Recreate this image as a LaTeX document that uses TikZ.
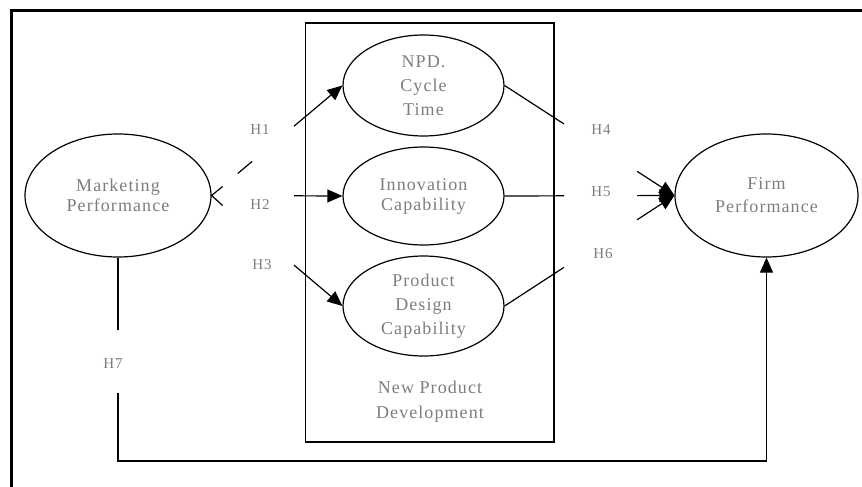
\documentclass[tikz,border=0pt]{standalone}
\usepackage{fontspec}
\setmainfont{Liberation Serif}[LetterSpace=6]
\usetikzlibrary{shapes.geometric,arrows.meta,calc}
\definecolor{txtgray}{RGB}{125,125,125}
\tikzset{
  construct/.style={ellipse,draw,line width=1.2pt,inner sep=0pt,align=center,
    text=txtgray,font=\fontsize{18}{23}\selectfont},
  hlabel/.style={text=txtgray,font=\fontsize{15}{18}\selectfont,inner sep=0pt},
  conn/.style={line width=1.2pt},
  tip/.style={-{Triangle[length=15pt,width=13pt]}},
}
\begin{document}
\begin{tikzpicture}[x=1pt,y=-1pt]
\useasboundingbox (0,0) rectangle (862,487);
% frame
\draw[line width=3pt] (11.5,487) -- (11.5,10.5) -- (862,10.5);
% NPD box
\node[draw,line width=1.2pt,minimum width=248.5pt,minimum height=419pt,inner sep=0pt] (box) at (429.75,232.5) {};
\node[text=txtgray,font=\fontsize{18}{25}\selectfont,align=center] (boxlbl) at (430,402) {New Product\\Development};
% constructs
\node[construct,minimum width=186pt,minimum height=123pt,font=\fontsize{18}{20}\selectfont] (mp) at (118,195.5) {Marketing\\Performance};
\node[construct,minimum width=161pt,minimum height=101pt,font=\fontsize{18}{24}\selectfont] (npd) at (423.5,85.5) {NPD.\\Cycle\\Time};
\node[construct,minimum width=161pt,minimum height=98pt,font=\fontsize{18}{20}\selectfont] (inno) at (423.5,196) {Innovation\\Capability};
\node[construct,minimum width=161pt,minimum height=100pt,font=\fontsize{18}{24}\selectfont] (pdc) at (423.5,306) {Product\\Design\\Capability};
\node[construct,minimum width=183pt,minimum height=123pt] (firm) at (766.5,195.5) {Firm\\Performance};
% labels
\node[hlabel] (h1) at (260,130) {H1};
\node[hlabel] (h2) at (260,205) {H2};
\node[hlabel] (h3) at (262,265) {H3};
\node[hlabel] (h4) at (601,130) {H4};
\node[hlabel] (h5) at (601,192) {H5};
\node[hlabel] (h6) at (603,254) {H6};
\node[hlabel] (h7) at (113,364) {H7};
% H1
\draw[conn] ($(mp.east)!0.2!(npd.west)$) -- ($(mp.east)!0.31!(npd.west)$);
\draw[conn,tip] ($(mp.east)!0.63!(npd.west)$) -- (npd.west);
\draw[conn] (mp.east) ++(11,-9) -- (mp.east) -- ++(11,10);
% H2, H3
\draw[conn,tip] ($(mp.east)!0.63!(inno.west)$) -- (inno.west);
\draw[conn,tip] ($(mp.east)!0.63!(pdc.west)$) -- (pdc.west);
% H4-H6
\draw[conn] (npd.east) -- ($(npd.east)!0.35!(firm.west)$);
\draw[conn,tip] ($(npd.east)!0.78!(firm.west)$) -- (firm.west);
\draw[conn] (inno.east) -- ($(inno.east)!0.35!(firm.west)$);
\draw[conn,tip] ($(inno.east)!0.78!(firm.west)$) -- (firm.west);
\draw[conn] (pdc.east) -- ($(pdc.east)!0.35!(firm.west)$);
\draw[conn,tip] ($(pdc.east)!0.78!(firm.west)$) -- (firm.west);
% H7
\coordinate (base) at (0,461);
\draw[conn] (mp.south) -- ++(0,72);
\draw[conn,tip] ($(mp.south)+(0,135)$) -- (mp.south |- base) -| (firm.south);
\end{tikzpicture}
\end{document}
